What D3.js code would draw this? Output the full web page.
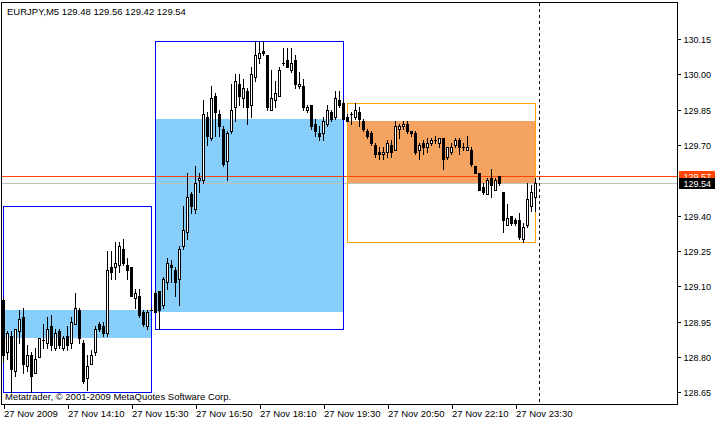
<!DOCTYPE html>
<html><head><meta charset="utf-8">
<script src="https://cdn.jsdelivr.net/npm/d3@7"></script>
<style>
html,body{margin:0;padding:0;background:#fff;}
svg{display:block;}
text{font-family:"Liberation Sans",Arial,sans-serif;font-size:9.5px;fill:#000;}
.yax text,.tag{font-size:9px;}
line,rect{shape-rendering:crispEdges;}
</style></head><body>
<svg id="chart" width="715" height="421"></svg>
<script>
const symbolTitle = "EURJPY,M5  129.48 129.56 129.42 129.54";
const copyright = "Metatrader, \u00a9 2001-2009 MetaQuotes Software Corp.";

// 5-minute bars, 27 Nov 2009 12:50 .. 23:55
const open = [
129.04,128.82,128.89,128.74,128.91,128.97,128.76,128.81,128.73,128.80,
128.87,128.86,128.93,128.84,128.91,128.84,128.89,128.86,128.94,129.00,
128.86,128.71,128.77,128.82,128.94,128.93,128.90,129.18,129.18,129.19,
129.26,129.19,129.18,129.05,129.06,128.99,128.93,129.00,129.07,129.08,
129.02,129.12,129.19,129.17,129.13,129.27,129.33,129.49,129.43,129.55,
129.55,129.82,129.73,129.91,129.83,129.77,129.63,129.76,129.86,129.96,
129.90,129.93,129.87,129.99,130.07,130.10,130.08,129.85,129.89,129.91,
130.05,130.06,130.02,130.06,129.95,129.95,129.85,129.87,129.79,129.75,
129.75,129.79,129.84,129.82,129.89,129.88,129.82,129.83,129.82,129.84,
129.80,129.76,129.75,129.70,129.67,129.66,129.67,129.70,129.68,129.77,
129.78,129.79,129.76,129.75,129.68,129.71,129.69,129.71,129.72,129.71,
129.73,129.65,129.67,129.70,129.72,129.69,129.68,129.68,129.61,129.58,
129.52,129.49,129.56,129.51,129.57,129.50,129.36,129.40,129.38,129.38,
129.30,129.36,129.44,129.48];
const high = [
129.05,128.91,128.91,128.92,129.00,129.01,128.85,128.82,128.84,128.88,
128.94,128.97,128.98,128.92,128.92,128.89,128.93,128.97,129.07,129.01,
128.87,128.81,128.83,128.93,128.95,128.95,129.25,129.25,129.29,129.29,
129.30,129.22,129.18,129.09,129.09,129.00,129.00,129.01,129.08,129.08,
129.14,129.22,129.21,129.18,129.27,129.44,129.58,129.50,129.61,129.58,
129.89,129.84,129.95,129.92,129.85,129.78,129.76,129.96,130.00,130.00,
129.98,129.94,130.03,130.14,130.14,130.14,130.08,130.02,129.97,130.03,
130.11,130.11,130.11,130.08,130.01,129.98,129.87,129.87,129.81,129.78,
129.82,129.87,129.85,129.93,129.93,129.89,129.83,129.84,129.88,129.86,
129.81,129.77,129.76,129.71,129.69,129.69,129.72,129.72,129.80,129.79,
129.80,129.80,129.76,129.76,129.71,129.72,129.73,129.73,129.74,129.73,
129.73,129.69,129.71,129.73,129.73,129.71,129.74,129.69,129.61,129.58,
129.54,129.56,129.60,129.56,129.57,129.50,129.45,129.40,129.39,129.41,
129.37,129.54,129.53,129.56];
const low = [
128.78,128.79,128.65,128.72,128.86,128.73,128.74,128.65,128.73,128.80,
128.84,128.84,128.83,128.83,128.84,128.83,128.83,128.84,128.94,128.86,
128.69,128.66,128.77,128.81,128.91,128.89,128.89,129.13,129.13,129.16,
129.19,129.13,129.06,129.01,128.97,128.93,128.92,129.00,128.99,128.92,
129.01,129.09,129.12,129.06,129.02,129.26,129.30,129.41,129.41,129.50,
129.54,129.70,129.72,129.74,129.74,129.61,129.55,129.75,129.80,129.87,
129.86,129.79,129.82,129.97,130.05,130.08,129.85,129.85,129.86,129.91,
130.04,130.03,130.01,129.94,129.94,129.85,129.84,129.77,129.74,129.72,
129.72,129.78,129.80,129.81,129.86,129.81,129.80,129.79,129.81,129.78,
129.76,129.73,129.70,129.65,129.64,129.64,129.65,129.65,129.68,129.73,
129.77,129.75,129.74,129.66,129.64,129.66,129.67,129.70,129.71,129.69,
129.60,129.64,129.66,129.69,129.66,129.68,129.68,129.61,129.58,129.51,
129.49,129.49,129.48,129.51,129.53,129.33,129.36,129.36,129.36,129.30,
129.29,129.35,129.42,129.42];
const close = [
128.81,128.90,128.75,128.92,128.96,128.77,128.81,128.72,128.79,128.88,
128.87,128.92,128.85,128.90,128.85,128.88,128.85,128.95,129.01,128.88,
128.70,128.76,128.81,128.92,128.92,128.90,129.17,129.16,129.20,129.27,
129.20,129.17,129.06,129.07,128.98,128.94,128.99,129.00,128.99,129.00,
129.13,129.20,129.18,129.12,129.26,129.34,129.48,129.44,129.54,129.56,
129.83,129.74,129.90,129.84,129.78,129.62,129.75,129.85,129.97,129.91,
129.94,129.86,130.00,130.08,130.09,130.09,129.86,129.90,129.92,130.02,
130.05,130.03,130.05,129.96,129.96,129.86,129.86,129.78,129.76,129.74,
129.80,129.85,129.81,129.90,129.87,129.81,129.80,129.83,129.85,129.81,
129.77,129.74,129.71,129.66,129.66,129.67,129.71,129.67,129.78,129.78,
129.79,129.76,129.75,129.67,129.70,129.69,129.71,129.72,129.72,129.73,
129.64,129.69,129.69,129.72,129.69,129.69,129.69,129.62,129.58,129.51,
129.50,129.55,129.53,129.55,129.54,129.38,129.39,129.37,129.37,129.31,
129.35,129.47,129.50,129.54];

const xTickBars = [0,16,32,48,64,80,96,112,128];
const xTickLabels = ["27 Nov 2009","27 Nov 14:10","27 Nov 15:30","27 Nov 16:50","27 Nov 18:10",
                     "27 Nov 19:30","27 Nov 20:50","27 Nov 22:10","27 Nov 23:30"];
const yTicks = [130.15,130.00,129.85,129.70,129.40,129.25,129.10,128.95,128.80,128.65];

// session boxes (outline) and inner filled bands
const boxStart  = [0, 38, 86];
const boxEnd    = [37, 85, 133];
const boxHigh   = [129.44, 130.14, 129.88];
const boxLow    = [128.65, 128.92, 129.29];
const boxColor  = ["#0000ff", "#0000ff", "#ffa500"];
const fillTop    = [129.00, 129.81, 129.80];
const fillBottom = [128.88, 128.99, 129.54];
const fillColor  = ["#87cefa", "#87cefa", "#f4a460"];

const levelPrice = 129.57;   // horizontal line (orange red)
const bidPrice = 129.54;     // bid line (silver)
const separatorBar = 134;    // day separator (00:00)

const svg = d3.select("#chart");
const W = 715, H = 421;
const plot = {left:1.5, top:2.5, right:677.5, bottom:404.5};

const x = d3.scaleLinear().domain([0, 134]).range([3.5, 539.5]);
const y = d3.scaleLinear().domain([128.65, 130.15]).range([392.3, 39]);
const py = v => Math.round(y(v)) + 0.5;

svg.append("rect").attr("width", W).attr("height", H).attr("fill", "#fff");

const objs = svg.append("g");
// filled bands
objs.selectAll("rect.band").data(d3.range(fillTop.length)).join("rect")
  .attr("class","band")
  .attr("x", i => x(boxStart[i]) - 0.5)
  .attr("width", i => x(boxEnd[i]) - x(boxStart[i]) + 1)
  .attr("y", i => Math.round(y(fillTop[i])))
  .attr("height", i => Math.round(y(fillBottom[i])) - Math.round(y(fillTop[i])))
  .attr("fill", i => fillColor[i]);

// horizontal lines
svg.append("rect").attr("x", plot.left).attr("width", plot.right - plot.left)
  .attr("y", py(levelPrice) - 0.5).attr("height", 1).attr("fill", "#ff4500");
svg.append("rect").attr("x", plot.left).attr("width", plot.right - plot.left)
  .attr("y", py(bidPrice) - 0.5).attr("height", 1).attr("fill", "#c0c0c0");

// outlines: 1px filled edges
d3.range(boxStart.length).forEach(i => {
  const x0 = x(boxStart[i]) - 0.5, x1 = x(boxEnd[i]) - 0.5;
  const y0 = py(boxHigh[i]) - 0.5, y1 = py(boxLow[i]) - 0.5;
  const gb = svg.append("g").attr("fill", boxColor[i]);
  gb.append("rect").attr("x", x0).attr("y", y0).attr("width", x1 - x0 + 1).attr("height", 1);
  gb.append("rect").attr("x", x0).attr("y", y1).attr("width", x1 - x0 + 1).attr("height", 1);
  gb.append("rect").attr("x", x0).attr("y", y0).attr("width", 1).attr("height", y1 - y0 + 1);
  gb.append("rect").attr("x", x1).attr("y", y0).attr("width", 1).attr("height", y1 - y0 + 1);
});

// day separator
svg.append("line").attr("x1", x(separatorBar)).attr("x2", x(separatorBar))
  .attr("y1", plot.top).attr("y2", plot.bottom)
  .attr("stroke", "#000").attr("stroke-dasharray", "3,3");

// candles
const idx = d3.range(open.length);
const cg = svg.append("g");
cg.selectAll("line.wick").data(idx).join("line")
  .attr("class","wick")
  .attr("x1", i => x(i)).attr("x2", i => x(i))
  .attr("y1", i => Math.round(y(high[i])))
  .attr("y2", i => Math.round(y(low[i])) + 1)
  .attr("stroke", "#000");
const bodyTop = i => Math.round(y(Math.max(open[i], close[i])));
const bodyBot = i => Math.round(y(Math.min(open[i], close[i])));
cg.selectAll("rect.body").data(idx.filter(i => bodyBot(i) > bodyTop(i))).join("rect")
  .attr("class","body")
  .attr("x", i => x(i) - 1).attr("width", 2)
  .attr("y", i => bodyTop(i) + 0.5)
  .attr("height", i => bodyBot(i) - bodyTop(i))
  .attr("fill", i => close[i] >= open[i] ? "#fff" : "#000")
  .attr("stroke", "#000");
cg.selectAll("line.doji").data(idx.filter(i => bodyBot(i) === bodyTop(i))).join("line")
  .attr("class","doji")
  .attr("x1", i => x(i) - 1.5).attr("x2", i => x(i) + 1.5)
  .attr("y1", i => bodyTop(i) + 0.5).attr("y2", i => bodyTop(i) + 0.5)
  .attr("stroke", "#000");

// frame
svg.append("rect").attr("x", plot.left).attr("y", plot.top)
  .attr("width", plot.right - plot.left).attr("height", plot.bottom - plot.top)
  .attr("fill", "none").attr("stroke", "#000");

// y axis
const yAxis = d3.axisRight(y).tickValues(yTicks).tickFormat(d3.format(".2f"))
  .tickSize(3).tickPadding(3);
const ya = svg.append("g").attr("class","yax").attr("transform", `translate(${plot.right},0)`).call(yAxis);
ya.select(".domain").remove();
ya.selectAll("text").attr("font-family", null).attr("font-size", null)
  .attr("dy", "0.35em").attr("y", 0.5);

// price labels
function priceTag(v, bg, fg) {
  const yy = Math.round(y(v));
  svg.append("rect").attr("x", plot.right + 1).attr("y", yy - 5)
    .attr("width", W - plot.right).attr("height", 11).attr("fill", bg);
  svg.append("text").attr("class","tag").attr("x", plot.right + 6).attr("y", yy + 4)
    .style("fill", fg).text(d3.format(".2f")(v));
}
priceTag(levelPrice, "#ff4500", "#fff");
priceTag(bidPrice, "#000", "#fff");

// x axis
const xAxis = d3.axisBottom(x).tickValues(xTickBars)
  .tickFormat((d, i) => xTickLabels[i]).tickSize(4);
const xa = svg.append("g").attr("transform", `translate(0,${plot.bottom})`).call(xAxis);
xa.select(".domain").remove();
xa.selectAll("text").attr("font-family", null).attr("font-size", null)
  .attr("text-anchor", "start").attr("x", 0).attr("dy", null).attr("y", 12);

// title and copyright
svg.append("text").attr("x", 7).attr("y", 15).text(symbolTitle);
svg.append("text").attr("x", 5).attr("y", 400).text(copyright);
</script>
</body></html>
